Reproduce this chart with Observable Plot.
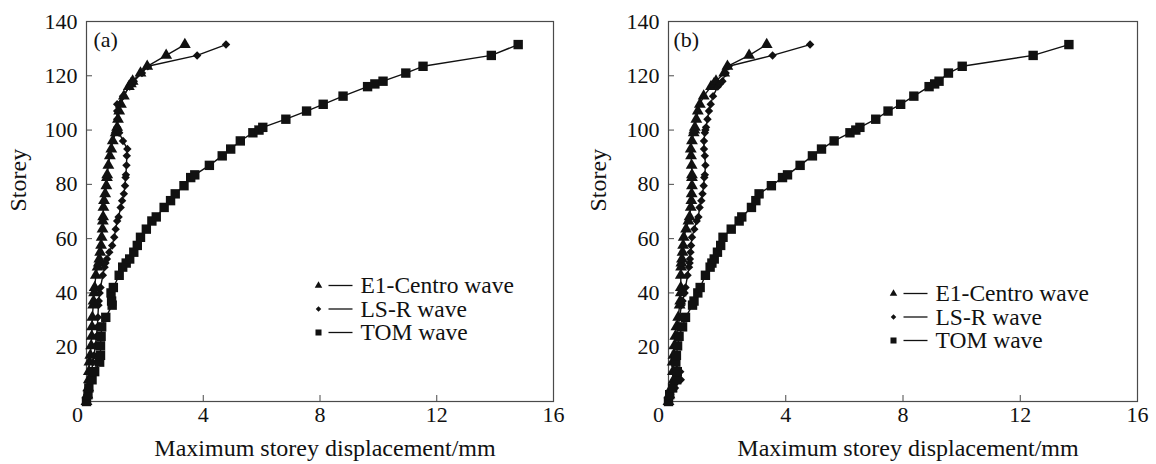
<!DOCTYPE html>
<html><head><meta charset="utf-8">
<script src="https://cdn.jsdelivr.net/npm/d3@7"></script>
<script src="https://cdn.jsdelivr.net/npm/@observablehq/plot@0.6"></script>
<style>
html,body{margin:0;padding:0;background:#fff;}
#wrap{display:flex;width:1156px;height:464px;overflow:hidden;}
#wrap svg, #wrap svg text { font-family: "Liberation Serif", "Times New Roman", serif !important; }
</style></head><body><div id="wrap"></div>
<script>
// ---- data ----
const storey = [0,2.5,5,8,11,14.5,17,20.5,24,27.5,
  31,35.5,37,40,42,46.5,49.5,51,52.5,55,
  57.5,60.5,63.5,66.5,68,71.5,74,76.5,79.5,82.5,
  83.5,87,90.5,93,96,99,100,101,104,107,
  109.5,112.5,116,117,118,121,123.5,127.5,131.5];

const seriesNames = ["E1-Centro wave", "LS-R wave", "TOM wave"];
const panelTags = ["(a)", "(b)"];
const xTicks = [4, 8, 12, 16];
const xZero = [0];
const yTicks = [20, 40, 60, 80, 100, 120, 140];
const xLabel = "Maximum storey displacement/mm";
const yLabel = "Storey";

// panel (a)
const e1A = [0,0.03,0.06,0.08,0.08,0.1,0.13,0.16,0.18,0.19,
  0.2,0.23,0.24,0.26,0.28,0.32,0.38,0.42,0.44,0.47,
  0.5,0.52,0.55,0.56,0.57,0.58,0.6,0.64,0.68,0.7,
  0.71,0.75,0.8,0.85,0.9,1.0,1.03,1.05,1.08,1.12,
  1.18,1.28,1.45,1.52,1.58,1.85,2.08,2.73,3.37];
const lsrA = [0,0.03,0.07,0.12,0.17,0.22,0.26,0.3,0.34,0.37,
  0.39,0.41,0.42,0.45,0.48,0.56,0.62,0.65,0.7,0.78,
  0.88,0.95,1.0,1.05,1.1,1.17,1.22,1.28,1.32,1.34,
  1.35,1.37,1.38,1.4,1.25,1.12,1.08,1.05,1.05,1.05,
  1.05,1.25,1.48,1.57,1.62,1.9,2.1,3.79,4.78];
const tomA = [0,0.05,0.08,0.19,0.28,0.45,0.48,0.48,0.5,0.52,
  0.66,0.88,0.86,0.84,0.92,1.12,1.24,1.36,1.48,1.62,
  1.74,1.85,2.05,2.24,2.39,2.66,2.88,3.04,3.34,3.57,
  3.71,4.21,4.65,4.94,5.27,5.7,5.91,6.04,6.83,7.54,
  8.11,8.79,9.63,9.88,10.16,10.94,11.53,13.87,14.79];

// panel (b)
const e1B = [0,0.03,0.1,0.18,0.15,0.14,0.17,0.2,0.23,0.27,
  0.33,0.38,0.4,0.42,0.42,0.42,0.43,0.44,0.46,0.48,
  0.5,0.52,0.6,0.68,0.72,0.76,0.78,0.79,0.8,0.8,
  0.8,0.79,0.77,0.76,0.8,0.86,0.88,0.9,0.95,1.0,
  1.07,1.2,1.45,1.55,1.62,1.9,2.01,2.75,3.35];
const lsrB = [0,0.06,0.22,0.42,0.4,0.2,0.2,0.22,0.27,0.32,
  0.38,0.44,0.48,0.55,0.58,0.65,0.7,0.72,0.73,0.75,
  0.77,0.8,0.88,0.96,1.02,1.06,1.12,1.16,1.2,1.22,
  1.24,1.26,1.24,1.21,1.21,1.24,1.26,1.28,1.33,1.38,
  1.44,1.52,1.68,1.75,1.84,1.95,2.05,3.55,4.83];
const tomB = [0,0.04,0.14,0.28,0.3,0.25,0.27,0.31,0.36,0.48,
  0.58,0.82,0.87,1.0,1.08,1.26,1.42,1.48,1.56,1.67,
  1.78,1.86,2.14,2.41,2.5,2.83,2.98,3.09,3.51,3.89,
  4.06,4.49,4.91,5.22,5.65,6.19,6.39,6.53,7.07,7.49,
  7.92,8.37,8.89,9.08,9.23,9.55,10.02,12.44,13.66];

// ---- styling ----
const ink = "#111";
const symbols = ["triangle", "diamond2", "square"];
const dotR = [4.4, 3.8, 5.3];
const legendR = [2.8, 2.5, 3.4];
const dash = {draw(ctx) { ctx.moveTo(-12, 0); ctx.lineTo(12, 0); }};

const layouts = [
  {marginLeft: 86, marginRight: 25, yTitleDx: -68, tagDx: 7, legX: 232, legY: 264, legStep: 23.5, zeroDx: -9},
  {marginLeft: 90, marginRight: 19, yTitleDx: -70, tagDx: 5, legX: 225, legY: 272, legStep: 23.5, zeroDx: -10}
];

function panel(tag, values, lay) {
  const rows = [];
  seriesNames.forEach((s, k) => storey.forEach((h, i) => rows.push({series: s, k, storey: h, disp: values[k][i]})));
  const legend = seriesNames.flatMap((s, k) => {
    const dy = lay.legY + k * lay.legStep;
    return [
      Plot.dot([s], {frameAnchor: "top-left", dx: lay.legX, dy, symbol: symbols[k], r: legendR[k], fill: ink, stroke: "none"}),
      Plot.dot([s], {frameAnchor: "top-left", dx: lay.legX + 22, dy, symbol: dash, r: 1, fill: "none", stroke: ink, strokeWidth: 1.3}),
      Plot.text([s], {frameAnchor: "top-left", dx: lay.legX + 42, dy, textAnchor: "start", lineAnchor: "middle", fontSize: 23.5, fill: ink})
    ];
  });
  return Plot.plot({
    width: 578, height: 464,
    marginLeft: lay.marginLeft, marginRight: lay.marginRight, marginTop: 21, marginBottom: 63,
    style: {fontFamily: "Liberation Serif", background: "#fff", color: ink},
    x: {domain: [0, 16]},
    y: {domain: [0, 140]},
    marks: [
      Plot.frame({stroke: "#4a4a4a", strokeWidth: 1.2}),
      Plot.axisX({ticks: xTicks, tickSize: -6, tickPadding: 11, fontSize: 22, label: null, stroke: "#4a4a4a", fill: ink}),
      Plot.text(xZero, {x: d => d, frameAnchor: "bottom", lineAnchor: "top", dy: 5, dx: lay.zeroDx, fontSize: 22, fill: ink}),
      Plot.axisY({ticks: yTicks, tickSize: -6, tickPadding: 15, fontSize: 22, label: null, stroke: "#4a4a4a", fill: ink}),
      Plot.text([xLabel], {frameAnchor: "bottom", lineAnchor: "bottom", dy: 54, dx: 5, fontSize: 24, fill: ink}),
      Plot.text([yLabel], {frameAnchor: "left", rotate: -90, dx: lay.yTitleDx, fontSize: 24, fill: ink}),
      Plot.text([tag], {frameAnchor: "top-left", textAnchor: "start", lineAnchor: "bottom", dx: lay.tagDx, dy: 25, fontSize: 22, fill: ink}),
      Plot.line(rows, {x: "disp", y: "storey", z: "series", stroke: ink, strokeWidth: 1.4}),
      ...seriesNames.map((s, k) => Plot.dot(rows.filter(r => r.k === k), {x: "disp", y: "storey", symbol: symbols[k], r: dotR[k], fill: ink, stroke: "none"})),
      ...legend
    ]
  });
}

const wrap = document.getElementById("wrap");
wrap.append(panel(panelTags[0], [e1A, lsrA, tomA], layouts[0]));
wrap.append(panel(panelTags[1], [e1B, lsrB, tomB], layouts[1]));
</script></body></html>
